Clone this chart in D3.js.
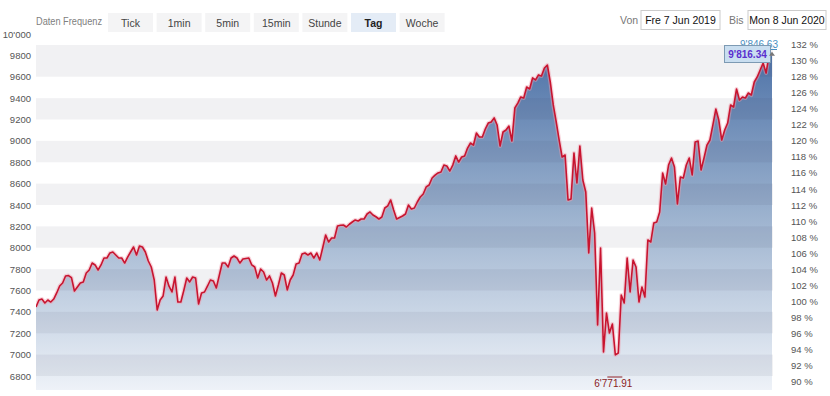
<!DOCTYPE html>
<html>
<head>
<meta charset="utf-8">
<script src="https://cdn.jsdelivr.net/npm/d3@7"></script>
<style>
  html, body { margin: 0; padding: 0; background: #fff; }
  svg { display: block; font-family: "Liberation Sans", Arial, sans-serif; }
</style>
</head>
<body>
<svg id="chart" width="830" height="396"></svg>
<script>
// daily closes, 7 Jun 2019 .. 8 Jun 2020
const closes = [
  7446, 7511, 7520, 7483, 7511, 7492, 7520, 7577, 7642, 7670, 7736, 7740, 7720, 7595, 7633, 7670,
  7680, 7764, 7792, 7857, 7839, 7792, 7839, 7904, 7904, 7951, 7960, 7932, 7904, 7904, 7857, 7913,
  7960, 8007, 7932, 8016, 8007, 7960, 7876, 7820, 7698, 7418, 7511, 7549,
  7726, 7640, 7586, 7726, 7492, 7492, 7600, 7717, 7680, 7726, 7717, 7474, 7577, 7586, 7640, 7698,
  7689, 7623, 7740, 7857, 7857, 7820, 7904, 7923, 7904, 7857, 7895, 7900, 7904, 7839, 7820, 7717,
  7801, 7773, 7698, 7736, 7670, 7549, 7651, 7764, 7745, 7605, 7698, 7745, 7848, 7857, 7941,
  7951, 7932, 7951, 7904, 7951, 7885, 8000, 8119, 8054, 8091, 8091, 8204, 8210, 8213, 8194, 8220,
  8241, 8260, 8250, 8269, 8269, 8316, 8335, 8306, 8290, 8269, 8288, 8372, 8391, 8447, 8353, 8269,
  8283, 8297, 8316, 8400, 8363, 8372, 8428, 8475, 8503, 8569, 8587,
  8653, 8680, 8700, 8709, 8774, 8765, 8718, 8774, 8859, 8802, 8849, 8859, 8933, 8980, 8961, 9074,
  9036, 9036, 9111, 9167, 9177, 9215, 9149, 8952, 9083, 9102, 9139, 8999, 9308, 9354, 9411, 9401,
  9504, 9486, 9589, 9570, 9617, 9607, 9682, 9710,
  9550, 9336, 9177, 9008, 8849, 8868, 8447, 8456, 8887, 8606, 8952, 8634, 8522, 7951, 8372, 8138,
  7277, 7998, 7025, 7390, 7202, 7287, 6997, 7015, 7558, 7483, 7904, 7586, 7885, 7820, 7492, 7633,
  7539, 8073, 8054, 8231, 8241, 8335, 8700, 8597, 8774,
  8840, 8756, 8410, 8662, 8653, 8774, 8840, 8681, 8990, 8999, 8728, 8840, 8961, 9008, 9149, 9298,
  9195, 9008, 9102, 9167, 9336, 9317, 9486, 9383, 9411, 9401, 9448, 9429, 9551, 9598, 9663, 9729,
  9635, 9804, 9816.34
];
const periodHigh = 9846.63;
const periodLow = 6771.91;
const baseValue = 7500;

const leftTicks = [6800, 7000, 7200, 7400, 7600, 7800, 8000, 8200, 8400, 8600, 8800, 9000, 9200, 9400, 9600, 9800, 10000];
const rightTicks = [90, 92, 94, 96, 98, 100, 102, 104, 106, 108, 110, 112, 114, 116, 118, 120, 122, 124, 126, 128, 130, 132];
const bandStarts = [6800, 7200, 7600, 8000, 8400, 8800, 9200, 9600];
const frequencies = ['Tick', '1min', '5min', '15min', 'Stunde', 'Tag', 'Woche'];
const activeFrequency = 'Tag';
const dateFrom = 'Fre 7 Jun 2019';
const dateTo = 'Mon 8 Jun 2020';

const svg = d3.select('#chart');
const plot = { left: 36, right: 773, top: 45, bottom: 390 };

const ch = d3.formatLocale({ decimal: '.', thousands: "'", grouping: [3], currency: ['', ''] });
const fmtPrice = ch.format(',.2f');
const fmtTick = v => v >= 10000 ? ch.format(',')(v) : String(v);

const x = d3.scaleLinear().domain([0, closes.length - 1]).range([plot.left, 772]);
const y = d3.scaleLinear().domain([6800, 10000]).range([376, 34]);
const pct = d3.scaleLinear().domain(y.domain().map(v => v / baseValue * 100)).range(y.range());

// header: frequency buttons
svg.append('text')
    .attr('x', 36).attr('y', 25)
    .attr('font-size', 10).attr('fill', '#808080')
    .attr('textLength', 66).attr('lengthAdjust', 'spacingAndGlyphs')
    .text('Daten Frequenz');

const btn = svg.append('g').selectAll('g')
    .data(frequencies)
    .join('g')
    .attr('transform', (d, i) => `translate(${108 + i * 48.6},13)`);

btn.append('rect')
    .attr('width', 45).attr('height', 19)
    .attr('fill', d => d === activeFrequency ? '#e4ecf6' : '#f4f4f5');

btn.append('text')
    .attr('x', 22.5).attr('y', 13.5)
    .attr('text-anchor', 'middle')
    .attr('font-size', 10.5)
    .attr('font-weight', d => d === activeFrequency ? 'bold' : 'normal')
    .attr('fill', d => d === activeFrequency ? '#222' : '#444')
    .text(d => d);

// date range
const range = [
    { label: 'Von', lx: 620, bx: 641, bw: 79, value: dateFrom },
    { label: 'Bis', lx: 729, bx: 748, bw: 78, value: dateTo }
];
const rg = svg.append('g').selectAll('g').data(range).join('g');
rg.append('text')
    .attr('x', d => d.lx).attr('y', 24)
    .attr('font-size', 10.5).attr('fill', '#777')
    .text(d => d.label);
rg.append('rect')
    .attr('x', d => d.bx).attr('y', 10.5)
    .attr('width', d => d.bw).attr('height', 19)
    .attr('fill', '#fff').attr('stroke', '#ccc');
rg.append('text')
    .attr('x', d => d.bx + d.bw / 2).attr('y', 24)
    .attr('text-anchor', 'middle')
    .attr('font-size', 10.5).attr('fill', '#111')
    .text(d => d.value);

// gradient for the area
const defs = svg.append('defs');
const grad = defs.append('linearGradient')
    .attr('id', 'fillGrad')
    .attr('gradientUnits', 'userSpaceOnUse')
    .attr('x1', 0).attr('x2', 0)
    .attr('y1', plot.top).attr('y2', plot.bottom);
grad.append('stop').attr('offset', 0).attr('stop-color', '#4b70a6');
grad.append('stop').attr('offset', 0.5).attr('stop-color', '#9db3cf');
grad.append('stop').attr('offset', 1).attr('stop-color', '#eef2f8');

defs.append('clipPath').attr('id', 'plotClip')
    .append('rect')
    .attr('x', plot.left).attr('y', plot.top)
    .attr('width', plot.right - plot.left).attr('height', plot.bottom - plot.top);

const g = svg.append('g').attr('clip-path', 'url(#plotClip)');

// area under the line
const area = d3.area()
    .x((d, i) => x(i))
    .y0(plot.bottom)
    .y1(d => y(d));

g.append('path')
    .datum(closes)
    .attr('d', area)
    .attr('fill', 'url(#fillGrad)');

// alternating bands (on top, translucent)
g.append('g').selectAll('rect')
    .data(bandStarts)
    .join('rect')
    .attr('x', plot.left)
    .attr('width', plot.right - plot.left)
    .attr('y', (d, i) => i === bandStarts.length - 1 ? plot.top : y(d + 200))
    .attr('height', (d, i) => y(d) - (i === bandStarts.length - 1 ? plot.top : y(d + 200)))
    .attr('fill', '#2a2a50')
    .attr('fill-opacity', 0.065);

// line
const line = d3.line()
    .x((d, i) => x(i))
    .y(d => y(d));

g.append('path')
    .datum(closes)
    .attr('d', line)
    .attr('fill', 'none')
    .attr('stroke', '#f0a0b0')
    .attr('stroke-opacity', 0.45)
    .attr('stroke-width', 4)
    .attr('stroke-linejoin', 'round');

g.append('path')
    .datum(closes)
    .attr('d', line)
    .attr('fill', 'none')
    .attr('stroke', '#c8142f')
    .attr('stroke-width', 1.6)
    .attr('stroke-linejoin', 'round');

// left axis
const leftAxis = svg.append('g')
    .attr('transform', 'translate(31,0)')
    .call(d3.axisLeft(y).tickValues(leftTicks).tickFormat(fmtTick).tickSize(0).tickPadding(0));
leftAxis.select('.domain').remove();
leftAxis.selectAll('text')
    .attr('font-family', '"Liberation Sans", Arial, sans-serif')
    .attr('font-size', 9.5).attr('fill', '#555');

// right axis (percent of base)
const rightAxis = svg.append('g')
    .attr('transform', 'translate(791,0)')
    .call(d3.axisRight(pct).tickValues(rightTicks).tickFormat(d => d + ' %').tickSize(0).tickPadding(0));
rightAxis.select('.domain').remove();
rightAxis.selectAll('text')
    .attr('font-family', '"Liberation Sans", Arial, sans-serif')
    .attr('font-size', 9.5).attr('fill', '#555');

// low label
const lowIdx = d3.minIndex(closes);
const lowX = x(lowIdx) - 2;
svg.append('line')
    .attr('x1', lowX - 6).attr('x2', lowX + 9)
    .attr('y1', 377).attr('y2', 377)
    .attr('stroke', '#8a1c24').attr('stroke-width', 1);
svg.append('text')
    .attr('x', lowX).attr('y', 387)
    .attr('text-anchor', 'middle')
    .attr('font-size', 10).attr('fill', '#8a1c24')
    .text(fmtPrice(periodLow));

// high label and last value tooltip
const lastX = x(closes.length - 1);
const lastY = y(closes[closes.length - 1]);
svg.append('text')
    .attr('x', lastX + 6).attr('y', 48)
    .attr('text-anchor', 'end')
    .attr('font-size', 10).attr('fill', '#4a8fc2')
    .text(fmtPrice(periodHigh));
svg.append('line')
    .attr('x1', lastX - 8).attr('x2', lastX + 5)
    .attr('y1', 49.5).attr('y2', 49.5)
    .attr('stroke', '#4a8fc2').attr('stroke-width', 1);

svg.append('rect')
    .attr('x', 724.5).attr('y', 45.5)
    .attr('width', 46).attr('height', 17)
    .attr('fill', '#c9def0').attr('stroke', '#7d9ab3');
svg.append('text')
    .attr('x', 747.5).attr('y', 58)
    .attr('text-anchor', 'middle')
    .attr('font-size', 10).attr('font-weight', 'bold').attr('fill', '#5a2fcf')
    .text(fmtPrice(closes[closes.length - 1]));
svg.append('path')
    .attr('d', `M${lastX - 3},${lastY + 2}L${lastX},${lastY - 2}L${lastX + 3},${lastY + 2}Z`)
    .attr('fill', '#777');
</script>
</body>
</html>
